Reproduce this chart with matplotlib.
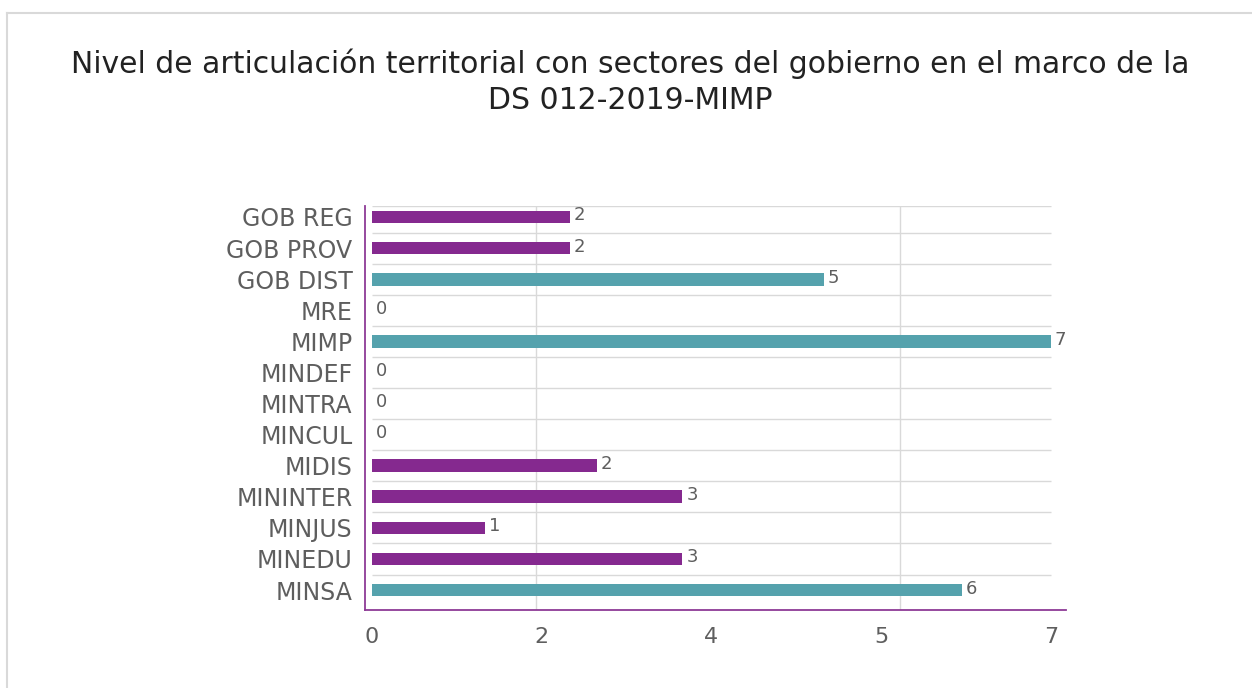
import matplotlib
matplotlib.use("Agg")
import matplotlib.pyplot as plt
from matplotlib.lines import Line2D
import numpy as np

# ── Data ──────────────────────────────────────────────────────────────────────
categories = ["GOB REG", "GOB PROV", "GOB DIST", "MRE", "MIMP", "MINDEF",
              "MINTRA", "MINCUL", "MIDIS", "MININTER", "MINJUS", "MINEDU", "MINSA"]
values = [2.04, 2.04, 4.66, 0, 7.0, 0, 0, 0, 2.32, 3.20, 1.17, 3.20, 6.08]
highlight = ["GOB DIST", "MIMP", "MINSA"]

x_ticks = [0, 1.75, 3.5, 5.25, 7]
x_grid = [1.69, 3.5, 5.44, 7.0]

title = "Nivel de articulación territorial con sectores del gobierno en el marco de la\nDS 012-2019-MIMP"

PURPLE = "#85298F"
TEAL = "#55A2AD"
TEXT = "#5E5E5E"
GRID = "#D9D9D9"

plt.rcParams["font.family"] = ["DejaVu Sans"]

fig = plt.figure(figsize=(12.52, 6.88), dpi=100)
ax = fig.add_axes([0.2915, 0.1134, 0.56, 0.5872])

n = len(categories)
y = np.arange(n)
colors = [TEAL if c in highlight else PURPLE for c in categories]
ax.barh(y, values, height=0.41, color=colors, zorder=3)

for yi, v in zip(y, values):
    ax.text(v + 0.04, yi - 0.05, f"{v:.0f}", va="center", ha="left",
            fontsize=13, color=TEXT, zorder=4)

y_top = -0.354
ax.set_ylim(n - 1 + 0.64, y_top)
ax.set_xlim(-0.072, 7.155)

ax.set_yticks(y)
ax.set_yticklabels(categories, fontsize=17, color=TEXT)
ax.set_xticks(x_ticks)
ax.set_xticklabels([f"{t:.0f}" for t in x_ticks], fontsize=16, color=TEXT)
ax.tick_params(axis="both", length=0)
ax.tick_params(axis="y", pad=9)
ax.tick_params(axis="x", pad=12.5)

# grid
ax.set_xticks(x_grid, minor=True)
ax.tick_params(axis="x", which="minor", length=0)
ax.grid(axis="x", which="minor", color=GRID, linewidth=1, zorder=0)
ax.grid(axis="x", which="major", visible=False)
ax.hlines(np.r_[y_top, np.arange(0.5, n - 1)], 0, 7, color=GRID,
          linewidth=1, zorder=0)

for s in ["top", "right"]:
    ax.spines[s].set_visible(False)
for s in ["left", "bottom"]:
    ax.spines[s].set_color("#8E3A96")
    ax.spines[s].set_linewidth(1.3)

fig.text(0.503, 0.881, title, ha="center", va="center", fontsize=21.5,
         color="#222222", linespacing=1.3)

# outer frame (top and left edges)
fig.add_artist(Line2D([7 / 1252, 7 / 1252], [0, 1 - 13 / 688],
                      transform=fig.transFigure, color="#D9D9D9", linewidth=1.5))
fig.add_artist(Line2D([7 / 1252, 1], [1 - 13 / 688, 1 - 13 / 688],
                      transform=fig.transFigure, color="#D9D9D9", linewidth=1.5))

fig.savefig("out.png", dpi=100)
